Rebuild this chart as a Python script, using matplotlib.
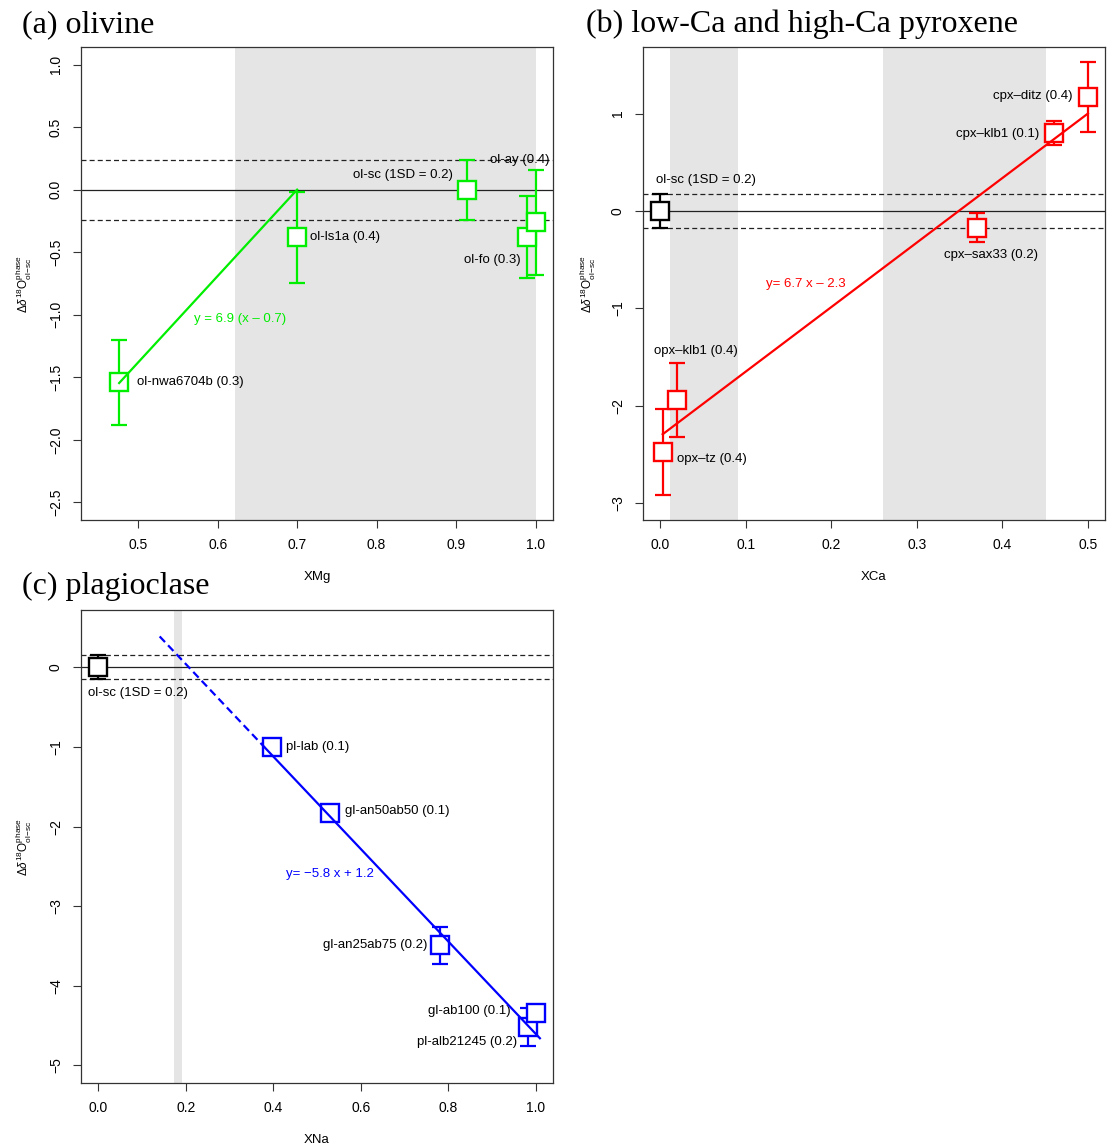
import numpy as np
import matplotlib.pyplot as plt

plt.rcParams['font.family'] = ['Liberation Sans', 'DejaVu Sans']
plt.rcParams['mathtext.fontset'] = 'custom'
plt.rcParams['mathtext.rm'] = 'Liberation Sans'
plt.rcParams['mathtext.it'] = 'Liberation Sans:italic'

# (a) olivine
ol_names = ['ol-nwa6704b', 'ol-ls1a', 'ol-sc', 'ol-fo', 'ol-ay']
ol_sd = ['0.3', '0.4', '1SD = 0.2', '0.3', '0.4']
ol_x = [0.476, 0.700, 0.914, 0.989, 1.000]
ol_y = [-1.54, -0.38, 0.00, -0.38, -0.26]
ol_err = [0.34, 0.365, 0.24, 0.33, 0.42]
ol_fit = (6.9, 0.7)          # y = a (x - b)
ol_fit_range = (0.476, 0.700)
ol_sc_sd_a = 0.24
ol_bands = [(0.6215, 1.0)]

# (b) pyroxene
px_names = ['ol-sc', 'opx\u2013tz', 'opx\u2013klb1', 'cpx\u2013sax33', 'cpx\u2013klb1', 'cpx\u2013ditz']
px_sd = ['1SD = 0.2', '0.4', '0.4', '0.2', '0.1', '0.4']
px_x = [0.000, 0.003, 0.020, 0.370, 0.460, 0.500]
px_y = [0.00, -2.47, -1.94, -0.17, 0.80, 1.17]
px_err = [0.172, 0.44, 0.376, 0.15, 0.12, 0.355]
px_fit = (6.62, -2.31)       # drawn line (label says 6.7 x - 2.3)
px_fit_range = (0.003, 0.500)
ol_sc_sd_b = 0.172
px_bands = [(0.011, 0.0905), (0.26, 0.4515)]

# (c) plagioclase
pl_names = ['ol-sc', 'pl-lab', 'gl-an50ab50', 'gl-an25ab75', 'pl-alb21245', 'gl-ab100']
pl_sd = ['1SD = 0.2', '0.1', '0.1', '0.2', '0.2', '0.1']
pl_x = [0.000, 0.398, 0.530, 0.781, 0.982, 1.000]
pl_y = [0.00, -1.00, -1.83, -3.49, -4.52, -4.34]
pl_err = [0.15, 0.08, 0.08, 0.23, 0.24, 0.08]
pl_fit = (-5.8, 1.2)
pl_fit_dashed = (0.14, 0.38)
pl_fit_solid = (0.38, 1.01)
ol_sc_sd_c = 0.15
pl_bands = [(0.172, 0.191)]

W, H = 1107, 1148
fig = plt.figure(figsize=(W / 100, H / 100), dpi=100)

ylab = r'$\Delta\delta^{18}\mathrm{O}^{\mathrm{phase}}_{\mathrm{ol\!-\!sc}}$'


def px_rect(l, t, r, b):
    return [l / W, 1 - b / H, (r - l) / W, (b - t) / H]


def setup(ax, xlim, ylim, xt, yt, xfmt, yfmt, xlabel):
    ax.set_xlim(*xlim)
    ax.set_ylim(*ylim)
    ax.set_xticks(xt)
    ax.set_yticks(yt)
    ax.set_xticklabels([xfmt.format(v).replace('-', '\u2212') for v in xt])
    ax.set_yticklabels([yfmt.format(v).replace('-', '\u2212') for v in yt],
                       rotation=90, va='center')
    ax.tick_params(direction='out', length=6, width=0.8, pad=7,
                   labelsize=10, color='#333333')
    for s in ax.spines.values():
        s.set_linewidth(0.9)
        s.set_color('#333333')
    ax.text(0.5, -0.12, xlabel, transform=ax.transAxes, ha='center',
            va='center', fontsize=9.5)
    ax.text(-0.12, 0.5, ylab, transform=ax.transAxes, ha='center',
            va='center', rotation=90, fontsize=8.5)


def ref_lines(ax, sd):
    ax.axhline(0, color='#222222', lw=0.9, zorder=1)
    for v in (sd, -sd):
        ax.axhline(v, color='#222222', lw=0.9, dashes=(4, 2.5), zorder=1)


def points(ax, x, y, err, colors):
    for xi, yi, ei, c in zip(x, y, err, colors):
        ax.errorbar(xi, yi, yerr=ei, fmt='none', ecolor=c, elinewidth=1.6,
                    capsize=6, capthick=1.6, zorder=2)
        ax.plot(xi, yi, 's', ms=13, mfc='white', mec=c, mew=1.7, zorder=3)


# ---------------- (a) olivine
ax = fig.add_axes(px_rect(81, 47, 553, 520))
for a, b in ol_bands:
    ax.axvspan(a, b, color='#e5e5e5', lw=0, zorder=0)
ref_lines(ax, ol_sc_sd_a)
points(ax, ol_x, ol_y, ol_err, ['#00ee00'] * len(ol_x))
xx = np.array(ol_fit_range)
ax.plot(xx, ol_fit[0] * (xx - ol_fit[1]), color='#00ee00', lw=1.6, zorder=4)
setup(ax, (0.428, 1.022), (-2.64, 1.14), np.arange(0.5, 1.01, 0.1),
      np.arange(-2.5, 1.01, 0.5), '{:.1f}', '{:.1f}', 'XMg')
ol_lab_pos = [(0.498, -1.535, 'left'), (0.716, -0.38, 'left'),
              (0.896, 0.12, 'right'), (0.981, -0.56, 'right'),
              (1.018, 0.24, 'right')]
for n, s, (tx, ty, ha) in zip(ol_names, ol_sd, ol_lab_pos):
    ax.text(tx, ty, f'{n} ({s})', ha=ha, va='center', fontsize=9.5)
ax.text(0.628, -1.03, 'y = 6.9 (x \u2013 0.7)', color='#00ee00',
        ha='center', va='center', fontsize=9.5)

# ---------------- (b) pyroxene
ax = fig.add_axes(px_rect(643, 47, 1105, 520))
for a, b in px_bands:
    ax.axvspan(a, b, color='#e5e5e5', lw=0, zorder=0)
ref_lines(ax, ol_sc_sd_b)
points(ax, px_x, px_y, px_err, ['black'] + ['red'] * (len(px_x) - 1))
xx = np.array(px_fit_range)
ax.plot(xx, px_fit[0] * xx + px_fit[1], color='red', lw=1.6, zorder=4)
setup(ax, (-0.02, 0.52), (-3.17, 1.683), np.arange(0, 0.51, 0.1),
      [-3, -2, -1, 0, 1], '{:.1f}', '{:d}', 'XCa')
px_lab_pos = [(-0.005, 0.317, 'left'), (0.020, -2.54, 'left'),
              (-0.007, -1.435, 'left'), (0.387, -0.454, 'center'),
              (0.443, 0.786, 'right'), (0.4825, 1.183, 'right')]
for n, s, (tx, ty, ha) in zip(px_names, px_sd, px_lab_pos):
    ax.text(tx, ty, f'{n} ({s})', ha=ha, va='center', fontsize=9.5)
ax.text(0.170, -0.744, 'y= 6.7 x \u2013 2.3', color='red',
        ha='center', va='center', fontsize=9.5)

# ---------------- (c) plagioclase
ax = fig.add_axes(px_rect(81, 610, 553, 1083))
for a, b in pl_bands:
    ax.axvspan(a, b, color='#e5e5e5', lw=0, zorder=0)
ref_lines(ax, ol_sc_sd_c)
points(ax, pl_x, pl_y, pl_err, ['black'] + ['blue'] * (len(pl_x) - 1))
xx = np.array(pl_fit_dashed)
ax.plot(xx, pl_fit[0] * xx + pl_fit[1], color='blue', lw=1.6,
        dashes=(3.5, 2), zorder=4)
xx = np.array(pl_fit_solid)
ax.plot(xx, pl_fit[0] * xx + pl_fit[1], color='blue', lw=1.6, zorder=4)
setup(ax, (-0.04, 1.04), (-5.22, 0.72), np.arange(0, 1.01, 0.2),
      [-5, -4, -3, -2, -1, 0], '{:.1f}', '{:d}', 'XNa')
pl_lab_pos = [(-0.024, -0.32, 'left'), (0.430, -1.0, 'left'),
              (0.564, -1.80, 'left'), (0.752, -3.49, 'right'),
              (0.957, -4.71, 'right'), (0.9435, -4.32, 'right')]
for n, s, (tx, ty, ha) in zip(pl_names, pl_sd, pl_lab_pos):
    ax.text(tx, ty, f'{n} ({s})', ha=ha, va='center', fontsize=9.5)
ax.text(0.530, -2.59, 'y= \u22125.8 x + 1.2', color='blue',
        ha='center', va='center', fontsize=9.5)

# panel titles
tfont = dict(family=['Liberation Serif', 'DejaVu Serif'], fontsize=23,
             va='baseline', ha='left')
fig.text(22 / W, 1 - 32 / H, '(a) olivine', **tfont)
fig.text(586 / W, 1 - 32 / H, '(b) low-Ca and high-Ca pyroxene', **tfont)
fig.text(22 / W, 1 - 594 / H, '(c) plagioclase', **tfont)

fig.savefig('out.png', dpi=100)
